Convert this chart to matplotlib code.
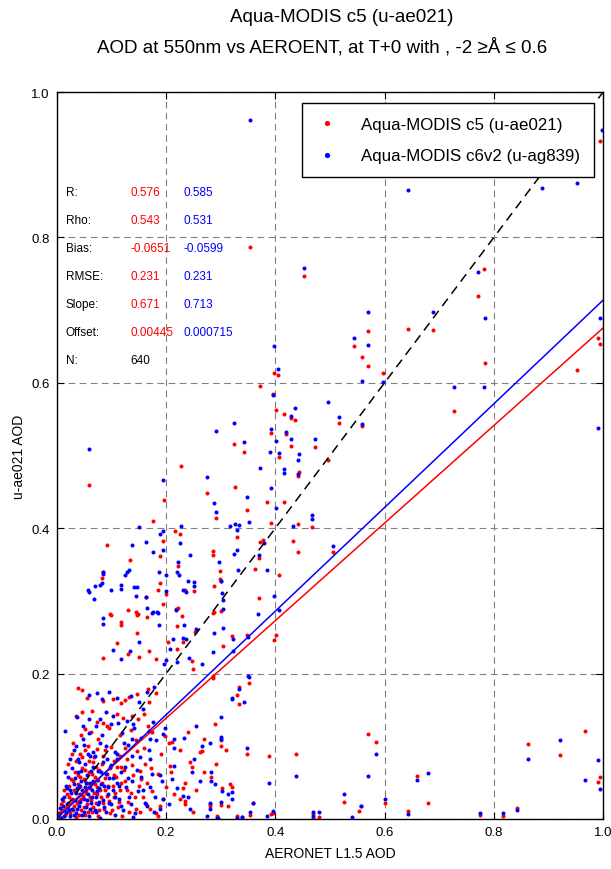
import matplotlib
matplotlib.use('Agg')
import matplotlib.pyplot as plt
import numpy as np

plt.rcParams['font.family'] = ['Liberation Sans', 'DejaVu Sans']

# points (AERONET AOD, satellite AOD)
c5_pts = [
    # upper / right
    (0.995, 0.933), (0.452, 0.747), (0.782, 0.757), (0.771, 0.719), (0.784, 0.627), (0.570, 0.671),
    (0.570, 0.623), (0.544, 0.651), (0.559, 0.635), (0.597, 0.613), (0.643, 0.674), (0.689, 0.673),
    (0.991, 0.662), (0.995, 0.653), (0.952, 0.618), (0.727, 0.561), (0.353, 0.787), (0.405, 0.611),
    (0.397, 0.613), (0.516, 0.545), (0.559, 0.541),
    # lower right
    (0.570, 0.117), (0.584, 0.106), (0.525, 0.023), (0.557, 0.018), (0.553, 0.011), (0.601, 0.022),
    (0.659, 0.059), (0.679, 0.022), (0.643, 0.011), (0.775, 0.005), (0.817, 0.004), (0.842, 0.015),
    (0.863, 0.103), (0.921, 0.088), (0.967, 0.121), (0.991, 0.051), (0.995, 0.058),
    # middle
    (0.372, 0.596), (0.396, 0.585), (0.401, 0.563), (0.416, 0.557), (0.429, 0.552), (0.436, 0.549),
    (0.392, 0.531), (0.419, 0.530), (0.429, 0.513), (0.324, 0.516), (0.342, 0.505), (0.407, 0.498),
    (0.473, 0.512), (0.496, 0.494), (0.059, 0.459), (0.227, 0.486), (0.443, 0.477), (0.441, 0.472),
    (0.326, 0.457), (0.275, 0.448), (0.196, 0.439), (0.385, 0.436), (0.416, 0.436), (0.291, 0.414),
    (0.348, 0.425), (0.467, 0.402), (0.392, 0.407), (0.441, 0.406), (0.176, 0.410), (0.216, 0.396),
    (0.225, 0.392), (0.330, 0.388), (0.194, 0.382), (0.092, 0.377), (0.189, 0.362), (0.134, 0.356),
    (0.222, 0.348), (0.286, 0.369), (0.286, 0.363), (0.372, 0.381), (0.377, 0.384), (0.432, 0.382),
    (0.370, 0.359), (0.441, 0.367), (0.505, 0.367), (0.084, 0.340), (0.082, 0.331), (0.299, 0.341),
    (0.299, 0.330), (0.363, 0.344), (0.407, 0.336), (0.189, 0.325), (0.185, 0.315), (0.200, 0.310),
    (0.234, 0.315), (0.251, 0.314), (0.288, 0.321), (0.300, 0.327), (0.163, 0.305), (0.194, 0.296),
    (0.130, 0.287), (0.145, 0.285), (0.148, 0.282), (0.218, 0.289), (0.222, 0.290), (0.229, 0.279),
    (0.288, 0.285), (0.300, 0.286), (0.370, 0.304), (0.097, 0.282), (0.165, 0.278),
    # lower middle
    (0.099, 0.281), (0.117, 0.271), (0.117, 0.267), (0.147, 0.281), (0.220, 0.266), (0.253, 0.257),
    (0.321, 0.252), (0.147, 0.256), (0.110, 0.242), (0.130, 0.227), (0.150, 0.223), (0.168, 0.231),
    (0.181, 0.220), (0.084, 0.221), (0.203, 0.243), (0.231, 0.243), (0.220, 0.234), (0.247, 0.217),
    (0.249, 0.206), (0.286, 0.197), (0.046, 0.177), (0.038, 0.180), (0.055, 0.166), (0.084, 0.162),
    (0.103, 0.165), (0.117, 0.160), (0.125, 0.164), (0.132, 0.168), (0.147, 0.172), (0.167, 0.179),
    (0.168, 0.161), (0.181, 0.173), (0.035, 0.142), (0.046, 0.147), (0.051, 0.124), (0.064, 0.149),
    (0.073, 0.133), (0.084, 0.132), (0.092, 0.128), (0.110, 0.144), (0.121, 0.139), (0.137, 0.142),
    (0.148, 0.138), (0.159, 0.144), (0.167, 0.128), (0.198, 0.114), (0.334, 0.181),
    (0.029, 0.105), (0.043, 0.089), (0.057, 0.101), (0.073, 0.096), (0.085, 0.087), (0.100, 0.099),
    (0.115, 0.087), (0.128, 0.083), (0.146, 0.094), (0.161, 0.076), (0.118, 0.071), (0.207, 0.073),
    (0.244, 0.078), (0.155, 0.055), (0.291, 0.076), (0.263, 0.092), (0.248, 0.071), (0.282, 0.058),
    (0.300, 0.101), (0.317, 0.048), (0.211, 0.106), (0.209, 0.065), (0.231, 0.043), (0.234, 0.025),
    (0.152, 0.010), (0.170, 0.014), (0.185, 0.004), (0.189, 0.018), (0.225, 0.028), (0.234, 0.021),
    (0.249, 0.010), (0.280, 0.021), (0.330, 0.004),
    (0.286, 0.283), (0.348, 0.253), (0.304, 0.238), (0.401, 0.253), (0.397, 0.246), (0.286, 0.194),
    (0.352, 0.187), (0.330, 0.171), (0.333, 0.158), (0.300, 0.109), (0.265, 0.094), (0.348, 0.089),
    (0.388, 0.087), (0.437, 0.089), (0.302, 0.043), (0.320, 0.044), (0.280, 0.018), (0.300, 0.019),
    (0.313, 0.018), (0.359, 0.022), (0.353, 0.006), (0.392, 0.007), (0.396, 0.008), (0.293, 0.004),
    (0.339, 0.003), (0.469, 0.007), (0.469, 0.002), (0.480, 0.003),
    # dense corner
    (0.005, 0.003), (0.010, 0.012), (0.012, 0.025), (0.015, 0.005), (0.018, 0.035), (0.020, 0.015),
    (0.022, 0.045), (0.025, 0.008), (0.027, 0.028), (0.030, 0.052), (0.032, 0.018), (0.034, 0.038),
    (0.036, 0.003), (0.038, 0.060), (0.040, 0.025), (0.042, 0.045), (0.044, 0.012), (0.046, 0.070),
    (0.048, 0.032), (0.050, 0.055), (0.052, 0.005), (0.054, 0.040), (0.056, 0.020), (0.058, 0.065),
    (0.060, 0.030), (0.062, 0.048), (0.064, 0.010), (0.066, 0.078), (0.068, 0.036), (0.070, 0.058),
    (0.072, 0.022), (0.074, 0.044), (0.076, 0.004), (0.078, 0.068), (0.080, 0.030), (0.083, 0.050),
    (0.086, 0.014), (0.089, 0.040), (0.092, 0.062), (0.095, 0.025), (0.098, 0.008), (0.102, 0.046),
    (0.105, 0.030), (0.108, 0.058), (0.112, 0.016), (0.116, 0.040), (0.120, 0.004), (0.125, 0.052),
    (0.130, 0.024), (0.135, 0.036), (0.140, 0.060), (0.145, 0.014), (0.150, 0.045), (0.158, 0.030),
    (0.165, 0.050), (0.175, 0.038), (0.185, 0.062), (0.200, 0.044), (0.215, 0.035), (0.235, 0.050),
    (0.255, 0.040), (0.270, 0.065),
    (0.008, 0.020), (0.014, 0.040), (0.017, 0.008), (0.023, 0.030), (0.026, 0.055), (0.029, 0.012),
    (0.031, 0.040), (0.033, 0.065), (0.037, 0.022), (0.039, 0.048), (0.041, 0.006), (0.043, 0.058),
    (0.045, 0.028), (0.047, 0.085), (0.049, 0.016), (0.051, 0.068), (0.053, 0.036), (0.055, 0.050),
    (0.057, 0.010), (0.059, 0.080), (0.061, 0.042), (0.063, 0.026), (0.065, 0.062), (0.067, 0.016),
    (0.069, 0.048), (0.071, 0.072), (0.073, 0.034), (0.075, 0.054), (0.077, 0.012), (0.079, 0.040),
    (0.082, 0.075), (0.085, 0.022), (0.088, 0.056), (0.091, 0.032), (0.094, 0.046), (0.097, 0.070),
    (0.101, 0.012), (0.104, 0.060), (0.107, 0.036), (0.111, 0.072), (0.114, 0.024), (0.118, 0.050),
    (0.123, 0.068), (0.128, 0.040), (0.133, 0.010), (0.138, 0.074), (0.143, 0.030), (0.153, 0.066),
    (0.163, 0.020), (0.172, 0.070), (0.182, 0.008), (0.195, 0.028),
    (0.020, 0.075), (0.028, 0.090), (0.035, 0.080), (0.045, 0.115), (0.052, 0.095), (0.062, 0.120),
    (0.068, 0.085), (0.075, 0.110), (0.088, 0.095), (0.095, 0.125), (0.105, 0.080), (0.115, 0.115),
    (0.125, 0.098), (0.135, 0.122), (0.145, 0.108), (0.160, 0.098), (0.175, 0.120), (0.190, 0.090),
    (0.205, 0.105), (0.225, 0.095), (0.240, 0.120), (0.270, 0.110), (0.290, 0.130), (0.310, 0.095),
]

c6_pts = [
    # upper / right
    (0.643, 0.865), (0.888, 0.868), (0.952, 0.875), (0.998, 0.948), (0.452, 0.758), (0.771, 0.752),
    (0.784, 0.689), (0.570, 0.697), (0.570, 0.652), (0.544, 0.662), (0.559, 0.602), (0.597, 0.601),
    (0.689, 0.697), (0.727, 0.594), (0.782, 0.594), (0.995, 0.689), (0.991, 0.538), (0.353, 0.961),
    (0.398, 0.651), (0.405, 0.619), (0.516, 0.553), (0.559, 0.543),
    # lower right
    (0.584, 0.089), (0.570, 0.059), (0.525, 0.034), (0.557, 0.018), (0.540, 0.003), (0.601, 0.028),
    (0.659, 0.054), (0.679, 0.063), (0.643, 0.007), (0.775, 0.008), (0.817, 0.008), (0.842, 0.012),
    (0.863, 0.083), (0.921, 0.109), (0.967, 0.054), (0.991, 0.081), (0.995, 0.041),
    # middle
    (0.396, 0.583), (0.429, 0.554), (0.436, 0.565), (0.496, 0.574), (0.324, 0.545), (0.291, 0.534),
    (0.392, 0.536), (0.419, 0.532), (0.429, 0.523), (0.401, 0.520), (0.342, 0.519), (0.390, 0.505),
    (0.407, 0.503), (0.443, 0.502), (0.441, 0.494), (0.473, 0.523), (0.059, 0.509), (0.372, 0.483),
    (0.416, 0.481), (0.416, 0.476), (0.441, 0.474), (0.275, 0.470), (0.194, 0.466), (0.392, 0.455),
    (0.348, 0.443), (0.401, 0.428), (0.288, 0.435), (0.291, 0.422), (0.467, 0.418), (0.467, 0.413),
    (0.352, 0.409), (0.432, 0.403), (0.150, 0.402), (0.194, 0.396), (0.189, 0.392), (0.227, 0.403),
    (0.317, 0.403), (0.326, 0.406), (0.333, 0.404), (0.330, 0.398), (0.225, 0.380), (0.137, 0.377),
    (0.163, 0.381), (0.194, 0.370), (0.176, 0.367), (0.222, 0.353), (0.244, 0.363), (0.297, 0.353),
    (0.324, 0.365), (0.330, 0.370), (0.379, 0.380), (0.370, 0.363), (0.505, 0.376), (0.084, 0.340),
    (0.084, 0.337), (0.132, 0.343), (0.128, 0.340), (0.125, 0.336), (0.082, 0.325), (0.187, 0.340),
    (0.200, 0.336), (0.220, 0.340), (0.223, 0.336), (0.332, 0.343), (0.385, 0.343), (0.240, 0.327),
    (0.251, 0.326), (0.070, 0.321), (0.079, 0.322), (0.057, 0.315), (0.059, 0.312), (0.099, 0.315),
    (0.117, 0.322), (0.117, 0.316), (0.141, 0.319), (0.147, 0.319), (0.200, 0.314), (0.231, 0.315),
    (0.236, 0.312), (0.251, 0.321), (0.300, 0.327), (0.302, 0.311), (0.068, 0.303), (0.145, 0.307),
    (0.163, 0.305), (0.165, 0.290), (0.176, 0.285), (0.183, 0.285), (0.218, 0.287), (0.304, 0.289),
    (0.368, 0.282), (0.397, 0.307), (0.407, 0.287), (0.084, 0.276),
    # lower middle
    (0.084, 0.268), (0.174, 0.283), (0.185, 0.283), (0.187, 0.267), (0.233, 0.267), (0.255, 0.261),
    (0.288, 0.256), (0.304, 0.263), (0.150, 0.244), (0.103, 0.233), (0.134, 0.231), (0.200, 0.219),
    (0.196, 0.213), (0.117, 0.220), (0.212, 0.248), (0.231, 0.249), (0.236, 0.248), (0.207, 0.234),
    (0.220, 0.216), (0.242, 0.221), (0.286, 0.230), (0.266, 0.213), (0.322, 0.248), (0.322, 0.231),
    (0.350, 0.197), (0.073, 0.173), (0.059, 0.170), (0.082, 0.165), (0.095, 0.175), (0.110, 0.166),
    (0.136, 0.169), (0.150, 0.161), (0.165, 0.175), (0.178, 0.182), (0.321, 0.166), (0.342, 0.161),
    (0.015, 0.121), (0.037, 0.140), (0.048, 0.128), (0.059, 0.138), (0.079, 0.138), (0.090, 0.147),
    (0.103, 0.142), (0.112, 0.132), (0.128, 0.135), (0.139, 0.131), (0.158, 0.151), (0.176, 0.133),
    (0.168, 0.121), (0.194, 0.117),
    (0.036, 0.100), (0.048, 0.110), (0.060, 0.087), (0.079, 0.105), (0.091, 0.083), (0.106, 0.092),
    (0.123, 0.105), (0.137, 0.087), (0.152, 0.085), (0.170, 0.083), (0.097, 0.071), (0.137, 0.110),
    (0.170, 0.110), (0.214, 0.073), (0.210, 0.055), (0.189, 0.060), (0.265, 0.101), (0.247, 0.064),
    (0.282, 0.064), (0.300, 0.110), (0.320, 0.037), (0.214, 0.110), (0.251, 0.083),
    (0.139, 0.003), (0.165, 0.018), (0.178, 0.010), (0.194, 0.028), (0.231, 0.032), (0.244, 0.014),
    (0.275, 0.004), (0.295, 0.001), (0.339, 0.003), (0.353, 0.009),
    (0.304, 0.301), (0.350, 0.250), (0.352, 0.195), (0.333, 0.179), (0.320, 0.165), (0.300, 0.113),
    (0.348, 0.098), (0.437, 0.059), (0.282, 0.052), (0.290, 0.048), (0.388, 0.050), (0.302, 0.039),
    (0.313, 0.035), (0.320, 0.027), (0.280, 0.022), (0.280, 0.014), (0.300, 0.023), (0.359, 0.022),
    (0.385, 0.004), (0.396, 0.011), (0.293, 0.001), (0.330, 0.001), (0.469, 0.010), (0.469, 0.004),
    (0.480, 0.010),
    # dense corner
    (0.004, 0.008), (0.008, 0.002), (0.011, 0.018), (0.014, 0.030), (0.016, 0.010), (0.019, 0.042),
    (0.021, 0.022), (0.024, 0.004), (0.026, 0.036), (0.028, 0.014), (0.031, 0.048), (0.033, 0.026),
    (0.035, 0.008), (0.037, 0.042), (0.039, 0.064), (0.041, 0.018), (0.043, 0.034), (0.045, 0.052),
    (0.047, 0.006), (0.049, 0.028), (0.051, 0.044), (0.053, 0.016), (0.055, 0.060), (0.057, 0.034),
    (0.059, 0.004), (0.061, 0.050), (0.063, 0.022), (0.065, 0.040), (0.067, 0.072), (0.069, 0.012),
    (0.071, 0.030), (0.073, 0.054), (0.075, 0.020), (0.077, 0.042), (0.079, 0.002), (0.081, 0.064),
    (0.084, 0.026), (0.087, 0.046), (0.090, 0.010), (0.093, 0.034), (0.096, 0.056), (0.100, 0.020),
    (0.103, 0.040), (0.106, 0.006), (0.110, 0.050), (0.114, 0.028), (0.118, 0.064), (0.122, 0.012),
    (0.127, 0.044), (0.132, 0.030), (0.138, 0.052), (0.143, 0.008), (0.148, 0.038), (0.155, 0.058),
    (0.162, 0.022), (0.170, 0.044), (0.180, 0.030), (0.192, 0.052), (0.205, 0.020), (0.220, 0.042),
    (0.240, 0.030), (0.262, 0.052),
    (0.006, 0.015), (0.010, 0.028), (0.013, 0.004), (0.016, 0.046), (0.018, 0.020), (0.021, 0.058),
    (0.023, 0.012), (0.025, 0.040), (0.027, 0.070), (0.029, 0.026), (0.031, 0.006), (0.033, 0.056),
    (0.035, 0.036), (0.037, 0.014), (0.039, 0.082), (0.041, 0.046), (0.043, 0.024), (0.045, 0.066),
    (0.047, 0.040), (0.049, 0.010), (0.051, 0.076), (0.053, 0.050), (0.055, 0.026), (0.057, 0.090),
    (0.059, 0.044), (0.061, 0.014), (0.063, 0.066), (0.065, 0.030), (0.067, 0.052), (0.069, 0.086),
    (0.071, 0.010), (0.074, 0.038), (0.076, 0.066), (0.078, 0.024), (0.081, 0.048), (0.084, 0.078),
    (0.087, 0.016), (0.090, 0.062), (0.093, 0.044), (0.096, 0.022), (0.099, 0.074), (0.102, 0.056),
    (0.106, 0.030), (0.110, 0.082), (0.114, 0.046), (0.118, 0.018), (0.124, 0.072), (0.130, 0.056),
    (0.136, 0.020), (0.146, 0.068), (0.158, 0.040), (0.175, 0.062), (0.188, 0.014),
    (0.015, 0.065), (0.025, 0.082), (0.032, 0.095), (0.040, 0.078), (0.050, 0.102), (0.058, 0.118),
    (0.066, 0.092), (0.072, 0.128), (0.082, 0.115), (0.090, 0.100), (0.100, 0.130), (0.110, 0.090),
    (0.120, 0.118), (0.130, 0.102), (0.142, 0.125), (0.155, 0.112), (0.168, 0.095), (0.182, 0.108),
    (0.198, 0.125), (0.215, 0.098), (0.232, 0.112), (0.255, 0.128), (0.280, 0.105), (0.300, 0.140),
]

c5_label = 'Aqua-MODIS c5 (u-ae021)'
c6_label = 'Aqua-MODIS c6v2 (u-ag839)'

# fit statistics shown in the panel
stat_names = ['R:', 'Rho:', 'Bias:', 'RMSE:', 'Slope:', 'Offset:', 'N:']
c5_stats = ['0.576', '0.543', '-0.0651', '0.231', '0.671', '0.00445', '640']
c6_stats = ['0.585', '0.531', '-0.0599', '0.231', '0.713', '0.000715', '']
c5_fit = (0.671, 0.00445)
c6_fit = (0.713, 0.000715)

c5 = np.array(c5_pts)
c6 = np.array(c6_pts)

fig = plt.figure(figsize=(6.11, 8.70), dpi=100)
ax = fig.add_axes([0.093, 0.0575, 0.894, 0.8355])

ax.plot(c5[:, 0], c5[:, 1], 'o', color='red', ms=2.9, mew=0, label=c5_label)
ax.plot(c6[:, 0], c6[:, 1], 'o', color='blue', ms=2.9, mew=0, label=c6_label)

# 1:1 line and the two regression lines
xx = np.array([0.0, 1.0])
ax.plot(xx, xx, '--', color='black', lw=1.1, dashes=(6, 4))
ax.plot(xx, c5_fit[0] * xx + c5_fit[1], color='red', lw=1.1)
ax.plot(xx, c6_fit[0] * xx + c6_fit[1], color='blue', lw=1.1)

ax.set_xlim(0, 1)
ax.set_ylim(0, 1)
ax.set_xticks(np.arange(0, 1.01, 0.2))
ax.set_yticks(np.arange(0, 1.01, 0.2))
ax.set_xticklabels(['0.0', '0.2', '0.4', '0.6', '0.8', '1.0'])
ax.set_yticklabels(['0.0', '0.2', '0.4', '0.6', '0.8', '1.0'])
ax.tick_params(direction='in', top=True, right=True, length=5, labelsize=9.5, pad=5)
ax.grid(True, color='gray', ls='--', lw=0.8, dashes=(6, 4))
for s in ax.spines.values():
    s.set_linewidth(1.0)

ax.set_xlabel('AERONET L1.5 AOD', fontsize=10, labelpad=6)
ax.set_ylabel('u-ae021 AOD', fontsize=10, labelpad=4)

# two-line title, placed on the figure
fig.text(0.56, 1 - 17 / 870, 'Aqua-MODIS c5 (u-ae021)', ha='center', va='center', fontsize=13.5)
fig.text(0.527, 1 - 47 / 870, 'AOD at 550nm vs AEROENT, at T+0 with , -2 \u2265\u00c5 \u2264 0.6',
         ha='center', va='center', fontsize=13.5)

# statistics panel
for i in range(len(stat_names)):
    yy = 0.862 - i * 0.0385
    ax.text(0.016, yy, stat_names[i], transform=ax.transAxes, fontsize=8.5, va='center')
    ax.text(0.134, yy, c5_stats[i], transform=ax.transAxes, fontsize=8.5, va='center',
            color='black' if stat_names[i] == 'N:' else 'red')
    ax.text(0.231, yy, c6_stats[i], transform=ax.transAxes, fontsize=8.5, va='center', color='blue')

leg = ax.legend(loc='upper right', bbox_to_anchor=(0.983, 0.985), borderaxespad=0,
                fontsize=12.2, fancybox=False, framealpha=1, edgecolor='black',
                markerscale=1.3, handlelength=1.4, handletextpad=1.3, borderpad=0.8,
                labelspacing=1.0)
leg.get_frame().set_linewidth(1.0)

fig.savefig('out.png', dpi=100)
